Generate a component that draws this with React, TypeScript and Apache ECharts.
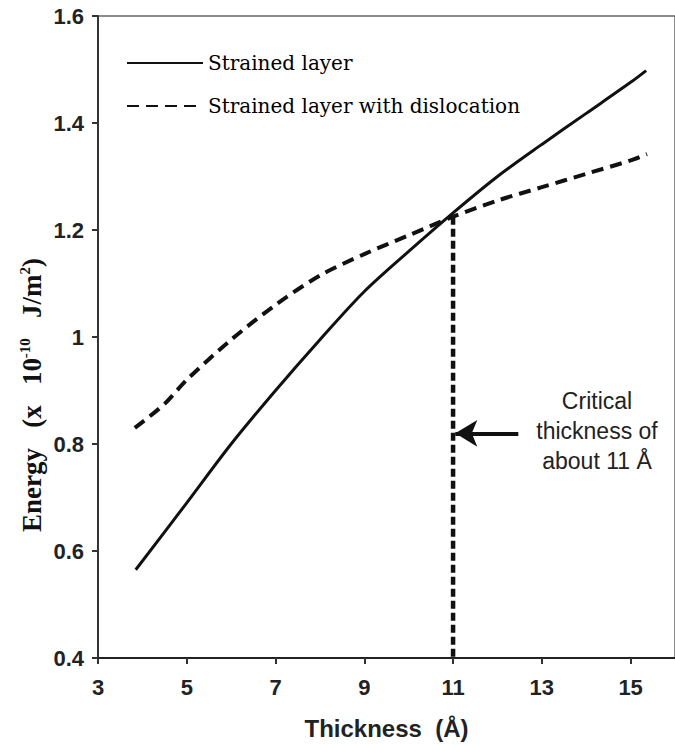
import React, { useEffect, useRef } from "react";
import * as echarts from "echarts";

// Thickness (Å) and energy (x 1e-10 J/m^2)
const strainedThickness = [3.85, 5, 6, 7, 8, 9, 10, 11, 12, 13, 14, 15, 15.35];
const strainedEnergy = [0.565, 0.69, 0.8, 0.9, 0.995, 1.085, 1.16, 1.232, 1.3, 1.36, 1.418, 1.476, 1.498];

const dislocThickness = [3.83, 4.5, 5, 6, 7, 8, 9, 10, 11, 12, 13, 14, 15, 15.37];
const dislocEnergy = [0.83, 0.875, 0.92, 0.995, 1.06, 1.115, 1.155, 1.19, 1.225, 1.255, 1.28, 1.305, 1.33, 1.342];

const criticalThickness = 11;
const criticalEnergy = 1.225;
const arrowFrom = [12.47, 0.82];
const arrowTo = [11.05, 0.82];

const seriesNames = ["Strained layer", "Strained layer with dislocation"];
const xTicks = { min: 3, max: 16, interval: 2 };
const yTicks = { min: 0.4, max: 1.6, interval: 0.2 };
const annotation = ["Critical", "thickness of", "about 11 Å"];

const zip = (xs: number[], ys: number[]) => xs.map((x, i) => [x, ys[i]]);

export default function App() {
  const ref = useRef<HTMLDivElement>(null);
  useEffect(() => {
    if (!ref.current) return;
    const chart = echarts.init(ref.current, undefined, { renderer: "svg" });
    chart.setOption({
      animation: false,
      backgroundColor: "#ffffff",
      grid: {
        left: 98,
        top: 16,
        width: 583,
        height: 642,
        show: true,
        borderColor: "#666",
        borderWidth: 1.5,
        backgroundColor: "transparent",
      },
      legend: {
        data: seriesNames,
        orient: "vertical",
        left: 121,
        top: 48,
        itemWidth: 76,
        itemHeight: 20,
        itemGap: 23,
        itemStyle: { opacity: 0 },
        textStyle: { fontFamily: "DejaVu Serif", fontSize: 20, color: "#000" },
      },
      xAxis: {
        type: "value",
        min: xTicks.min,
        max: xTicks.max,
        interval: xTicks.interval,
        splitLine: { show: false },
        axisLine: { lineStyle: { color: "#222", width: 2 } },
        axisTick: { show: true, length: 6, lineStyle: { color: "#333", width: 2 } },
        axisLabel: {
          showMaxLabel: false,
          margin: 18,
          fontFamily: "Liberation Sans",
          fontSize: 22,
          fontWeight: "bold",
          color: "#222",
        },
        name: "Thickness  (Å)",
        nameLocation: "middle",
        nameGap: 58,
        nameTextStyle: { fontFamily: "Liberation Sans", fontSize: 24, fontWeight: "bold", color: "#222" },
      },
      yAxis: {
        type: "value",
        min: yTicks.min,
        max: yTicks.max,
        interval: yTicks.interval,
        splitLine: { show: false },
        axisLine: { lineStyle: { color: "#333", width: 2 } },
        axisTick: { show: true, length: 6, lineStyle: { color: "#333", width: 2 } },
        axisLabel: {
          margin: 14,
          fontFamily: "Liberation Sans",
          fontSize: 22,
          fontWeight: "bold",
          color: "#222",
        },
      },
      series: [
        {
          name: seriesNames[0],
          type: "line",
          data: zip(strainedThickness, strainedEnergy),
          showSymbol: false,
          symbol: "none",
          smooth: 0.3,
          lineStyle: { color: "#111", width: 3, type: "solid" },
          itemStyle: { color: "#111" },
        },
        {
          name: seriesNames[1],
          type: "line",
          data: zip(dislocThickness, dislocEnergy),
          showSymbol: false,
          symbol: "none",
          smooth: 0.3,
          lineStyle: { color: "#111", width: 4, type: [12, 7] },
          itemStyle: { color: "#111" },
        },
        {
          name: "critical",
          type: "line",
          data: [
            [criticalThickness, criticalEnergy],
            [criticalThickness, yTicks.min],
          ],
          showSymbol: false,
          symbol: "none",
          lineStyle: { color: "#111", width: 4.5, type: [8, 4] },
          markLine: {
            silent: true,
            symbol: ["none", "arrow"],
            symbolSize: [20, 22],
            label: { show: false },
            lineStyle: { color: "#111", width: 4, type: "solid" },
            data: [[{ coord: arrowFrom }, { coord: arrowTo }]],
          },
        },
      ],
      graphic: [
        {
          type: "text",
          x: 32,
          y: 395,
          rotation: Math.PI / 2,
          style: {
            text: "{b|Energy   (x   10}{s|-10}{b|   J/m}{s|2}{b|)}",
            align: "center",
            verticalAlign: "middle",
            rich: {
              b: { fontFamily: "Liberation Serif", fontWeight: "bold", fontSize: 27, fill: "#111", color: "#111" },
              s: { fontFamily: "Liberation Serif", fontWeight: "bold", fontSize: 15, fill: "#111", color: "#111", padding: [0, 0, 15, 0] },
            },
          },
        },
        {
          type: "text",
          x: 597,
          y: 386,
          style: {
            text: annotation.join("\n"),
            align: "center",
            verticalAlign: "top",
            fontFamily: "Liberation Sans",
            fontSize: 23,
            lineHeight: 30,
            fill: "#222",
          },
        },
      ],
    });
    return () => chart.dispose();
  }, []);
  return (
    <div
      ref={ref}
      style={{ position: "fixed", left: 0, top: 0, width: 675, height: 745, background: "#fff" }}
    />
  );
}
